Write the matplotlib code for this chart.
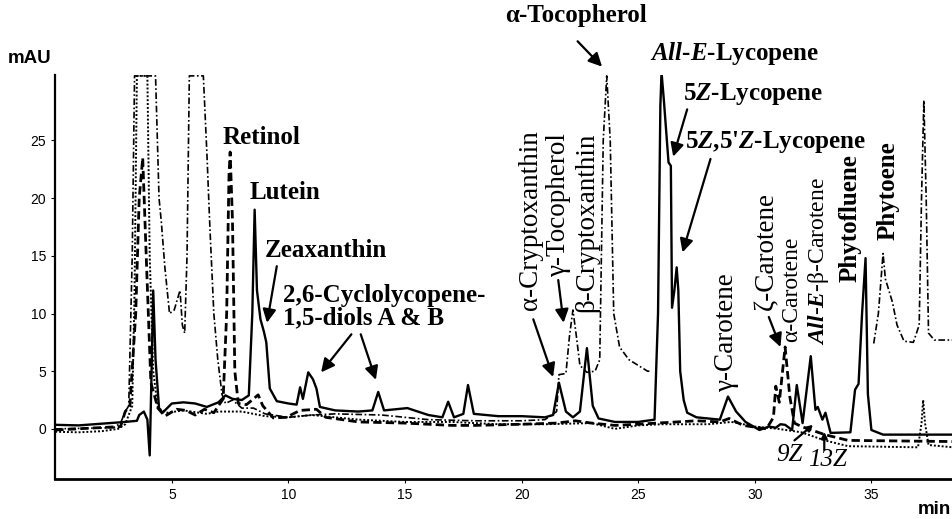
#import library
import matplotlib
matplotlib.use("Agg")
import matplotlib.pyplot as plt
import numpy as np

plt.rcParams["mathtext.fontset"] = "custom"
plt.rcParams["mathtext.rm"] = "Liberation Serif:bold"
plt.rcParams["mathtext.bf"] = "Liberation Serif:bold"
plt.rcParams["mathtext.it"] = "Liberation Serif:italic:bold"

#define datasets (retention time in min, absorbance in mAU)
solid_t = [0, 1, 2, 3, 3.5, 3.6, 3.8, 3.95, 4.05, 4.12, 4.2, 4.3, 4.45, 4.6,
           5.0, 5.5, 6.0, 6.5, 7.0, 7.3, 7.6, 8.0, 8.3, 8.45, 8.55, 8.65, 8.8,
           8.95, 9.05, 9.2, 9.5, 10.0, 10.35, 10.5, 10.62, 10.85, 11.05, 11.2,
           11.35, 12.0, 13.0, 13.6, 13.85, 14.1, 15.1, 16.0, 16.6, 16.85, 17.1,
           17.5, 17.7, 17.95, 19.0, 20.0, 21.0, 21.35, 21.6, 21.9, 22.2, 22.5,
           22.8, 23.05, 23.3, 24.0, 25.0, 25.7, 25.85, 25.95, 26.0, 26.1, 26.3,
           26.4, 26.45, 26.55, 26.65, 26.72, 26.8, 26.95, 27.1, 27.5, 28.0,
           28.5, 28.85, 29.2, 29.6, 30.2, 30.6, 30.9, 31.1, 31.3, 31.6, 31.8,
           32.05, 32.4, 32.6, 32.7, 32.9, 33.03, 33.25, 34.1, 34.3, 34.45, 34.6,
           34.75, 34.85, 35.0, 35.5, 38.5]
solid_v = [0.35, 0.3, 0.45, 0.6, 0.7, 1.2, 1.5, 0.8, -2.3, 4, 12, 6, 1.8, 1.4,
           2.2, 2.3, 2.2, 1.9, 2.3, 2.9, 2.6, 2.5, 2.9, 10, 19, 12, 9.5,
           8.4, 7.5, 3.5, 2.4, 2.2, 2.1, 3.6, 2.6, 4.9, 4.3, 3.5,
           1.9, 1.6, 1.5, 1.6, 3.2, 1.6, 1.8, 1.2, 1.0, 2.35, 1.0,
           1.3, 3.8, 1.3, 1.1, 1.1, 1.0, 1.2, 4.0, 1.5, 1.0, 1.5,
           7.0, 2.0, 0.9, 0.6, 0.6, 0.8, 10, 28, 30.9, 28.5, 23.1,
           22.8, 10.5, 12, 14, 12, 5, 2.5, 1.4, 1.0, 0.9,
           0.8, 2.8, 1.5, 0.6, -0.1, 0.2, 0.1, 0.4, 0.35, -0.1, 3.8,
           0.5, 6.3, 1.65, 1.9, 0.8, 1.4, -0.35, -0.3, 3.4, 3.9, 10,
           14.8, 3, -0.1, -0.5, -0.5]

dashed_t = [0, 2.8, 3.0, 3.2, 3.45, 3.6, 3.75, 3.9, 4.1, 4.4, 4.7, 5.2, 5.6,
            6.0, 6.4, 6.8, 7.2, 7.35, 7.45, 7.5, 7.6, 7.7, 7.85, 8.2, 8.5, 8.7,
            8.9, 9.35, 9.9, 10.5, 11.2, 11.6, 13, 15, 17, 18, 20, 21.5, 22.3,
            23, 24, 25, 25.8, 27.5, 28.5, 28.9, 29.5, 30.5, 30.8, 30.9, 31.05,
            31.3, 31.5, 31.7, 32, 33, 34, 38.5]
dashed_v = [-0.1, 0.2, 1.5, 2, 10, 20, 23.5, 15, 4, 1.8, 1.1, 1.7, 1.6,
            1.2, 1.7, 1.4, 2.6, 10, 22, 24, 18, 5, 2.2, 2.1, 2.6, 2.95,
            2, 0.95, 1.0, 1.6, 1.7, 1.0, 0.6, 0.5, 0.3, 0.3, 0.4, 0.5, 0.7,
            0.5, 0.3, 0.4, 0.5, 0.7, 0.6, 0.9, 0.3, 0.0, 1, 3.7, 2.3,
            7.1, 2.8, 0.5, 0.2, -0.5, -1.0, -1.1]

dashdot_t = [0, 2.5, 2.8, 3.0, 3.15, 3.3, 3.4, 4.3, 4.45, 4.55, 4.7, 4.9, 5.1,
             5.35, 5.45, 5.55, 5.65, 5.75, 6.35, 6.5, 6.63, 6.8, 6.97, 7.15,
             7.3, 7.6, 8, 8.5, 9, 10, 11, 12, 14, 16, 18, 20, 21, 21.5, 21.6,
             21.9, 22.05, 22.2, 22.35, 22.5, 22.8, 23.15, 23.35, 23.5, 23.65,
             23.8, 23.95, 24.2, 24.6, 25.0, 25.4, 25.5, 25.51,
             35.09, 35.1, 35.3, 35.5, 35.6, 35.75, 35.9, 36.1, 36.4, 36.8,
             37.05, 37.15, 37.25, 37.35, 37.45, 37.7, 38.5]
dashdot_v = [0.0, 0.1, 0.5, 1.5, 2, 15, 30.6, 30.6, 20, 17.9, 14, 10, 10.3,
             12, 9, 8.3, 15, 30.6, 30.6, 24, 17.5, 10, 6, 3,
             2.2, 2.5, 1.8, 1.8, 1.3, 1.0, 1.2, 1.3, 1.2, 0.8, 0.7, 0.7, 0.8, 1.5, 4.7,
             4.8, 8, 10.3, 8, 5.5, 4.9, 5, 6, 25, 30.6,
             25, 10, 7.1, 6, 5.5, 5.0, 5.0, np.nan,
             np.nan, 7.4, 10, 15.2, 13, 12, 11, 9, 7.6, 7.5,
             9, 20, 28.5, 20, 8.3, 7.7, 7.7]

dotted_t = [0, 1, 2, 2.7, 3.0, 3.3, 3.4, 3.5, 3.95, 4.05, 4.2, 4.4, 4.8, 5.5,
            6.5, 7.0, 8, 9, 10, 11, 12, 13, 15, 17, 19, 21, 23, 24, 25, 26,
            28, 29, 30, 31, 32, 33, 34, 37.0, 37.15, 37.22, 37.3, 37.45, 38.5]
dotted_v = [-0.25, -0.3, -0.2, 0.0, 0.4, 2, 12, 30.6, 30.6, 15, 5, 1.8, 1.4, 1.6,
            1.3, 1.5, 1.5, 1.1, 1.0, 1.2, 1.0, 0.8, 0.6, 0.6, 0.4, 0.4, 0.5, 0.0, 0.3, 0.4,
            0.4, 0.6, 0.2, 0.0, -0.3, -1.0, -1.5, -1.6, 0.5, 2.5, 0.5, -1.4, -1.6]

y_ticks = [0, 5, 10, 15, 20, 25]
x_ticks = [5, 10, 15, 20, 25, 30, 35]

#define fig and plot size
fig = plt.figure(figsize=(9.53, 5.19), dpi=100)
ax = fig.add_axes([0.058, 0.077, 0.942, 0.779])

#define traces
ax.plot(dotted_t, dotted_v, color="black", lw=1.4, linestyle=(0, (1, 1)))
ax.plot(dashdot_t, dashdot_v, color="black", lw=1.2, linestyle=(0, (4, 1.5, 1, 1.5)))
ax.plot(dashed_t, dashed_v, color="black", lw=2.0, linestyle=(0, (3, 1.5)))
ax.plot(solid_t, solid_v, color="black", lw=1.7)

#define axes
ax.set_xlim(0, 38.5)
ax.set_ylim(-4.35, 30.7)
ax.spines["top"].set_visible(False)
ax.spines["right"].set_visible(False)
ax.spines["left"].set_linewidth(1.6)
ax.spines["bottom"].set_linewidth(2.0)
ax.set_xticks(x_ticks)
ax.set_yticks(y_ticks)
ax.tick_params(length=3, width=0.8, labelsize=10)
for lab in ax.get_xticklabels() + ax.get_yticklabels():
    lab.set_family("Liberation Sans")

fig.text(0.008, 0.888, "mAU", fontsize=13.5, weight="bold", family="Liberation Sans",
         va="center")
fig.text(0.998, 0.018, "min", fontsize=13.5, weight="bold", family="Liberation Sans",
         ha="right", va="center")

#define labels
serif = "Liberation Serif"
horiz = [
    ("α-Tocopherol", 19.3, 35.8),
    (r"$\mathit{All}$-$\mathit{E}$-Lycopene", 25.5, 32.5),
    (r"$\mathit{5Z}$-Lycopene", 26.9, 29.0),
    (r"$\mathit{5Z}$,$\mathit{5}$'$\mathit{Z}$-Lycopene", 27.0, 24.9),
    ("Retinol", 7.19, 25.3),
    ("Lutein", 8.35, 20.5),
    ("Zeaxanthin", 9.0, 15.5),
    ("2,6-Cyclolycopene-", 9.76, 11.6),
    ("1,5-diols A & B", 9.76, 9.6),
]
for txt, tx, ty in horiz:
    ax.text(tx, ty, txt, fontsize=18, weight="bold", family=serif,
            ha="left", va="center", clip_on=False)

vert = [
    ("α-Cryptoxanthin", 20.4, 10.3, "normal", 19.5),
    ("γ-Tocopherol", 21.6, 13.2, "normal", 19.5),
    ("β-Cryptoxanthin", 22.8, 10.1, "normal", 19.5),
    ("γ-Carotene", 28.8, 3.2, "normal", 19.5),
    ("ζ-Carotene", 30.5, 10.3, "normal", 19.5),
    ("α-Carotene", 31.6, 7.5, "normal", 17),
    (r"$\mathit{All}$-$\mathit{E}$-β-Carotene", 32.75, 7.3, "normal", 17),
    ("Phytofluene", 34.1, 12.7, "bold", 18),
    ("Phytoene", 35.7, 16.4, "bold", 18),
]
for txt, tx, ty, w, fs in vert:
    ax.text(tx, ty, txt, fontsize=fs, weight=w,
            family=serif, rotation=90, ha="center", va="bottom")

ax.text(31.5, -2.3, "9Z", fontsize=18, style="italic", family=serif,
        ha="center", va="center")
ax.text(33.1, -2.7, "13Z", fontsize=18, style="italic", family=serif,
        ha="center", va="center")

#define arrows
arrows = [
    ((22.4, 33.6), (23.45, 31.4), 20),
    ((27.1, 27.7), (26.5, 23.6), 20),
    ((28.1, 23.4), (26.9, 15.3), 20),
    ((9.5, 14.1), (9.08, 9.2), 20),
    ((12.7, 8.2), (11.4, 4.9), 20),
    ((13.1, 8.2), (13.75, 4.25), 20),
    ((20.5, 9.5), (21.35, 4.5), 20),
    ((21.57, 12.9), (21.8, 9.2), 20),
    ((30.6, 9.7), (31.1, 7.1), 20),
    ((31.7, -1.0), (32.5, 0.35), 9),
    ((32.98, -1.8), (32.98, -0.26), 9),
]
for tail, head, ms in arrows:
    ax.annotate("", xy=head, xytext=tail, annotation_clip=False,
                arrowprops=dict(arrowstyle="-|>", color="black", lw=1.6,
                                mutation_scale=ms, shrinkA=0, shrinkB=0))

#show
plt.savefig("out.png", dpi=100)
